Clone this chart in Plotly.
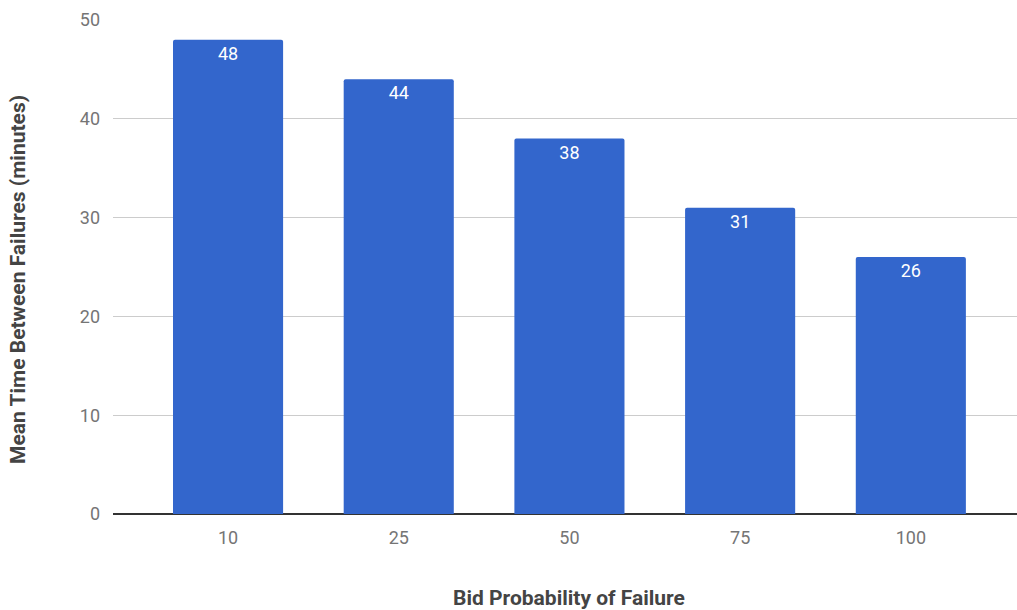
import plotly.graph_objects as go

# Bid probability of failure (%) vs. mean time between failures
categories = ["10", "25", "50", "75", "100"]
mtbf_minutes = [48, 44, 38, 31, 26]
y_ticks = [0, 10, 20, 30, 40, 50]

x_title = "Bid Probability of Failure"
y_title = "Mean Time Between Failures (minutes)"

fig = go.Figure(
    go.Bar(
        x=categories,
        y=mtbf_minutes,
        marker=dict(color="#3366CC", line=dict(width=0), cornerradius=2),
        width=0.645,
        text=[str(v) for v in mtbf_minutes],
        textposition="inside",
        insidetextanchor="end",
        textfont=dict(family="Roboto", size=18, color="#ffffff"),
        textangle=0,
        hoverinfo="skip",
    )
)

fig.update_layout(
    width=1017,
    height=610,
    margin=dict(l=113, r=0, t=20, b=96),
    paper_bgcolor="#ffffff",
    plot_bgcolor="#ffffff",
    font=dict(family="Roboto", color="#757575"),
    showlegend=False,
    bargap=0.355,
)

fig.update_xaxes(
    type="category",
    range=[-0.674, 4.622],
    showgrid=False,
    showline=False,
    ticks="",
    tickfont=dict(family="Roboto", size=18, color="#757575"),
    ticklabelstandoff=11,
    automargin=False,
)

fig.update_yaxes(
    range=[0, 50],
    tickvals=y_ticks,
    showgrid=True,
    gridcolor="#cccccc",
    gridwidth=1,
    zeroline=True,
    zerolinecolor="#333333",
    zerolinewidth=1.5,
    showline=False,
    ticks="",
    tickfont=dict(family="Roboto", size=18, color="#757575"),
    ticklabelstandoff=12,
    automargin=False,
)

# Axis titles placed as annotations so they can sit exactly where wanted
title_font = dict(family="Roboto", size=21, color="#444444")
fig.add_annotation(
    text=f"<b>{x_title}</b>",
    xref="paper", yref="paper",
    x=0.5044, y=-0.170,
    xanchor="center", yanchor="middle",
    showarrow=False,
    font=title_font,
)
fig.add_annotation(
    text=f"<b>{y_title}</b>",
    xref="paper", yref="paper",
    x=-0.1051, y=0.4757,
    xanchor="center", yanchor="middle",
    textangle=-90,
    showarrow=False,
    font=title_font,
)

fig.write_html("out.html")
